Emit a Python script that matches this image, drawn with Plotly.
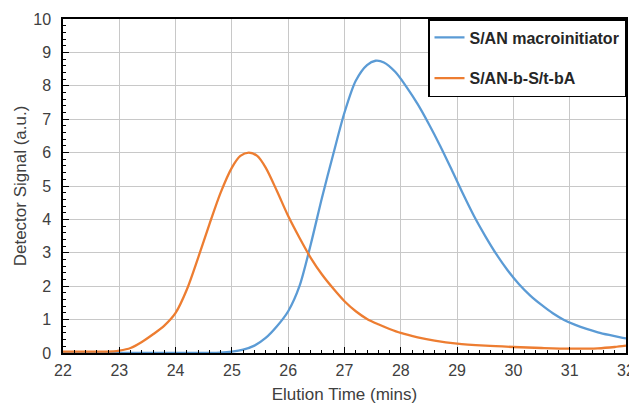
import plotly.graph_objects as go

blue_x = [22.0, 24.0, 24.6, 24.8, 25.0, 25.2, 25.4, 25.6, 25.8, 26.0, 26.2, 26.4, 26.6, 26.8,
          27.0, 27.2, 27.4, 27.55, 27.7, 27.9, 28.1, 28.3, 28.5, 28.7, 28.9, 29.1, 29.3,
          29.5, 29.7, 29.9, 30.1, 30.3, 30.5, 30.7, 30.9, 31.1, 31.3, 31.5, 31.7, 31.9, 32.0]
blue_y = [0.0, 0.0, 0.0, 0.01, 0.04, 0.10, 0.22, 0.45, 0.80, 1.25, 2.0, 3.25, 4.65, 5.95,
          7.2, 8.15, 8.62, 8.75, 8.7, 8.42, 7.97, 7.45, 6.85, 6.2, 5.5, 4.78, 4.1,
          3.5, 2.95, 2.47, 2.06, 1.72, 1.44, 1.19, 0.99, 0.84, 0.72, 0.62, 0.54, 0.47, 0.44]

orange_x = [22.0, 22.5, 22.9, 23.0, 23.2, 23.4, 23.6, 23.8, 24.0, 24.2, 24.4, 24.6, 24.8,
            25.0, 25.15, 25.3, 25.45, 25.6, 25.8, 26.0, 26.2, 26.4, 26.6, 26.8, 27.0,
            27.2, 27.4, 27.6, 27.8, 28.0, 28.3, 28.6, 29.0, 29.5, 30.0, 30.5, 31.0,
            31.5, 31.8, 32.0]
orange_y = [0.04, 0.04, 0.05, 0.07, 0.15, 0.33, 0.56, 0.82, 1.2, 1.9, 2.85, 3.85, 4.8,
            5.55, 5.9, 6.0, 5.9, 5.55, 4.85, 4.1, 3.45, 2.85, 2.35, 1.93, 1.55,
            1.25, 1.02, 0.86, 0.72, 0.6, 0.47, 0.37, 0.28, 0.22, 0.18, 0.15, 0.13,
            0.14, 0.18, 0.22]

names = ["S/AN macroinitiator", "S/AN-b-S/t-bA"]
colors = ["#5B9BD5", "#ED7D31"]

fig = go.Figure()
fig.add_trace(go.Scatter(x=blue_x, y=blue_y, mode="lines", name=names[0],
                         line=dict(color=colors[0], width=2.3, shape="spline", smoothing=0.8),
                         legendgroup="a"))
fig.add_trace(go.Scatter(x=orange_x, y=orange_y, mode="lines", name=names[1],
                         line=dict(color=colors[1], width=2.3, shape="spline", smoothing=0.8),
                         legendgroup="b"))

fam = "Arial, Liberation Sans, sans-serif"
tick_font = dict(family=fam, size=16, color="#404040")
title_font = dict(family=fam, size=17, color="#404040")

# the page body adds an 8px offset, so the figure is 8px smaller than the window
fig.update_layout(
    width=629, height=397,
    margin=dict(l=55, r=11, t=11, b=52),
    paper_bgcolor="white", plot_bgcolor="white",
    font=dict(family=fam, color="#404040"),
    legend=dict(x=1.0, y=1.0, xanchor="right", yanchor="top",
                bgcolor="white", bordercolor="#000000", borderwidth=1.5,
                font=dict(family=fam, size=16, color="#262626", weight="bold"),
                tracegroupgap=17, itemwidth=30,
                entrywidth=165, entrywidthmode="pixels"),
    xaxis=dict(range=[22, 32], dtick=1, tick0=22, showgrid=True, gridcolor="#c8c8c8", gridwidth=1.2,
               showline=True, linecolor="black", linewidth=1.5, mirror=True,
               ticks="inside", ticklen=6, tickcolor="black", tickwidth=1.2,
               minor=dict(dtick=0.2, ticks="inside", ticklen=3, tickcolor="black", showgrid=False),
               tickfont=tick_font, zeroline=False, automargin=False,
               ticklabeloverflow="allow", ticklabelstandoff=2,
               title=dict(text="Elution Time (mins)", font=title_font, standoff=10)),
    yaxis=dict(range=[0, 10], dtick=1, showgrid=True, gridcolor="#c8c8c8", gridwidth=1.2,
               showline=True, linecolor="black", linewidth=1.5, mirror=True,
               ticks="inside", ticklen=6, tickcolor="black", tickwidth=1.2,
               minor=dict(dtick=0.2, ticks="inside", ticklen=3, tickcolor="black", showgrid=False),
               tickfont=tick_font, zeroline=False, automargin=False,
               ticklabeloverflow="allow", ticklabelstandoff=7,
               title=dict(text="Detector Signal (a.u.)", font=title_font, standoff=2)),
)

fig.write_html("out.html")
